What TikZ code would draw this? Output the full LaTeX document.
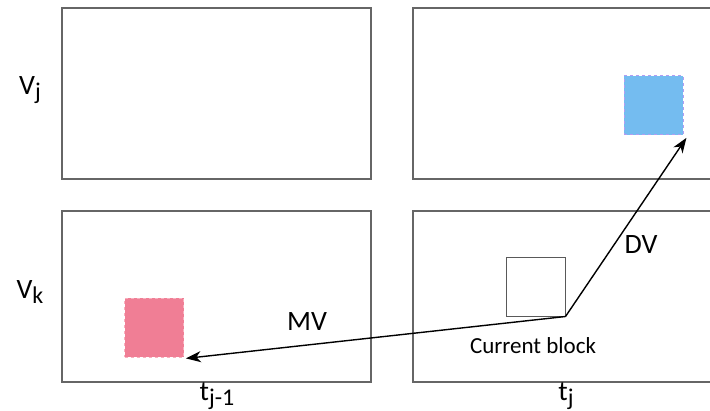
\documentclass[tikz,border=0pt]{standalone}
\usepackage{fontspec}
\setmainfont{Carlito}
\usetikzlibrary{arrows.meta}
\tikzset{every picture/.style={x=1pt,y=-1pt}}
\definecolor{dvblue}{HTML}{74BCF0}
\definecolor{dvedge}{HTML}{B49CF2}
\definecolor{mvpink}{HTML}{F07E95}
\definecolor{mvedge}{HTML}{F8B0BE}
\newcommand{\lowsub}[1]{\raisebox{-0.18em}{\fontsize{24}{24}\selectfont #1}}
\tikzset{
  frame/.style={draw=black!60, line width=1.1pt},
  blk/.style={minimum size=59pt, inner sep=0pt},
  vec/.style={line width=1.4pt, -{Stealth[length=15pt, width=11pt, inset=4.5pt]}},
  big/.style={font=\fontsize{28}{30}\selectfont},
  small/.style={font=\fontsize{23}{25}\selectfont}
}

\begin{document}
\begin{tikzpicture}
  \useasboundingbox (0,0) rectangle (710,410);
  % Frames
  \draw[frame] (62,8) rectangle (371,179);
  \draw[frame] (413,8) rectangle (725,179);
  \draw[frame] (62,211) rectangle (371,382);
  \draw[frame] (413,211) rectangle (725,382);

  % Blocks
  \node[blk, fill=dvblue, draw=dvedge, dashed, line width=0.8pt] (dvblk) at (653.5,105) {};
  \node[blk, fill=mvpink, draw=mvedge, dashed, line width=0.8pt] (mvblk) at (154,327.5) {};
  \node[blk, draw=black!65, line width=1pt] (cur) at (535.5,286.5) {};

  % Vectors
  \draw[vec] (cur.south east) -- ([shift={(2,1)}]mvblk.south east);
  \draw[vec] (cur.south east) -- ([shift={(3,3)}]dvblk.south east);

  % Labels
  \node[big] (vj) at (30,90) {V\lowsub{j}};
  \node[big] (vk) at (30,292) {V\lowsub{k}};
  \node[big] (tprev) at (217,396) {t\lowsub{j-1}};
  \node[big] (tcur) at (566,396) {t\lowsub{j}};
  \node[big] (mv) at (307,322) {MV};
  \node[big] (dv) at (641,245) {DV};
  \node[small] (curlbl) at (533,346) {Current block};
\end{tikzpicture}
\end{document}
